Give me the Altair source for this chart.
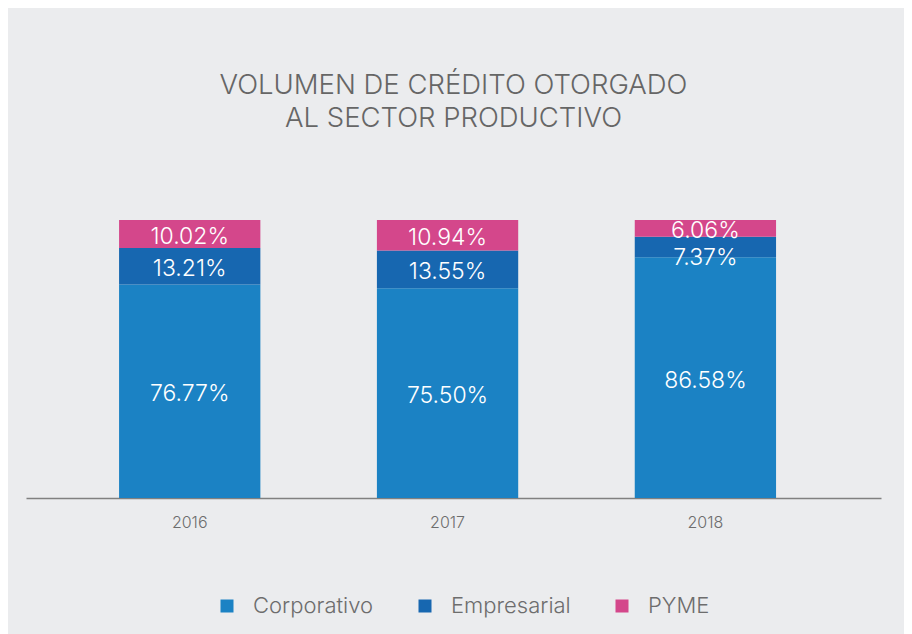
import altair as alt
import pandas as pd

years = ["2016", "2017", "2018"]
series = ["Corporativo", "Empresarial", "PYME"]
corporativo = [76.77, 75.50, 86.58]
empresarial = [13.21, 13.55, 7.37]
pyme = [10.02, 10.94, 6.06]
colors = ["#1B82C4", "#1767B0", "#D4478B"]
# label moved down where the segment is too thin for it (2018 Empresarial)
shifted = [("2018", "Empresarial")]

rows = []
for i, y in enumerate(years):
    for j, (name, vals) in enumerate(zip(series, [corporativo, empresarial, pyme])):
        rows.append({"year": y, "serie": name, "value": vals[i], "orden": j,
                     "label": f"{vals[i]:.2f}%",
                     "shift": (y, name) in shifted})
df = pd.DataFrame(rows)

FONT = "Inter"
base = alt.Chart(df).transform_stack(
    stack="value", groupby=["year"], as_=["v0", "v1"],
    sort=[alt.SortField("orden", order="ascending")]
).transform_calculate(mid="(datum.v0 + datum.v1) / 2")

xenc = alt.X("year:N", title=None,
             scale=alt.Scale(paddingInner=0.452, paddingOuter=0.384, align=0.47),
             axis=alt.Axis(labelAngle=0, ticks=False, grid=False, domainColor="#808080",
                           domainWidth=1.5, labelColor="#6d6d6d", labelFontSize=16,
                           labelFont=FONT, labelFontWeight=300, labelPadding=16))

bars = base.mark_bar().encode(
    x=xenc,
    y=alt.Y("v0:Q", scale=alt.Scale(domain=[0, 125.2], nice=False), axis=None),
    y2="v1:Q",
    color=alt.Color("serie:N", scale=alt.Scale(domain=series, range=colors),
                    sort=series,
                    legend=alt.Legend(title=None, orient="none", direction="horizontal",
                                      legendX=190, legendY=445, symbolType="square",
                                      symbolSize=169, symbolStrokeWidth=0, labelFontSize=22,
                                      labelFont=FONT, labelFontWeight=300, labelColor="#6d6d6d",
                                      labelOffset=15, columnPadding=40, padding=0)),
    order=alt.Order("orden:Q"),
)

text_style = dict(color="white", fontSize=23, font=FONT, fontWeight=300, baseline="middle")
texts = base.transform_filter("!datum.shift").mark_text(dy=3, **text_style).encode(
    x=alt.X("year:N"), y=alt.Y("mid:Q"), text="label:N")
texts_shift = base.transform_filter("datum.shift").mark_text(dy=11, **text_style).encode(
    x=alt.X("year:N"), y=alt.Y("mid:Q"), text="label:N")

chart = alt.layer(bars, texts, texts_shift).properties(
    width=855, height=348,
    autosize=alt.AutoSizeParams(type="none"),
    padding={"left": 18, "top": 142, "right": 23, "bottom": 136},
    background="#EBECEE",
    title=alt.Title(["VOLUMEN DE CRÉDITO OTORGADO", "AL SECTOR PRODUCTIVO"],
                    anchor="middle", fontSize=27.5, font=FONT, fontWeight=300,
                    color="#666666", lineHeight=33, offset=18),
).configure_view(stroke=None)

chart.save("out.html", embed_options={"renderer": "svg", "actions": False})
